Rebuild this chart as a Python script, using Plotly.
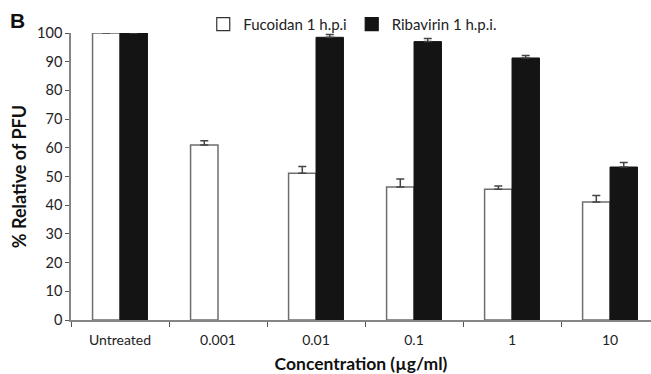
import plotly.graph_objects as go

categories = ["Untreated", "0.001", "0.01", "0.1", "1", "10"]
fucoidan = [100, 61.0, 51.1, 46.3, 45.6, 41.1]
fucoidan_err = [0.3, 1.5, 2.4, 2.8, 1.1, 2.3]
ribavirin = [100, None, 98.5, 97.0, 91.3, 53.3]
ribavirin_err = [0.3, None, 1.0, 1.1, 0.9, 1.6]
y_ticks = list(range(0, 101, 10))
legend_names = ["Fucoidan 1 h.p.i", "Ribavirin 1 h.p.i."]

FONT = "Lato, 'Open Sans', sans-serif"

fig = go.Figure()
fig.add_trace(go.Bar(
    x=categories, y=fucoidan, name=legend_names[0], showlegend=False,
    marker=dict(color="white", line=dict(color="#6e6e6e", width=1.5)),
    error_y=dict(type="data", array=fucoidan_err, symmetric=False, arrayminus=[0]*6,
                 color="#444444", thickness=1.5, width=4),
))
fig.add_trace(go.Bar(
    x=categories, y=ribavirin, name=legend_names[1], showlegend=False,
    marker=dict(color="#141414", line=dict(color="#141414", width=1)),
    error_y=dict(type="data", array=ribavirin_err, symmetric=False, arrayminus=[0]*6,
                 color="#444444", thickness=1.5, width=4),
))
# legend-only entries with larger square symbols
fig.add_trace(go.Scatter(x=[None], y=[None], mode="markers", name=legend_names[0],
                         marker=dict(symbol="square", size=13, color="white",
                                     line=dict(color="#333333", width=1.2))))
fig.add_trace(go.Scatter(x=[None], y=[None], mode="markers", name=legend_names[1],
                         marker=dict(symbol="square", size=13, color="#141414",
                                     line=dict(color="#141414", width=1.2))))

fig.update_layout(
    width=651, height=374,
    margin=dict(l=71, r=0, t=33, b=54),
    paper_bgcolor="white", plot_bgcolor="white",
    barmode="group", bargap=0.44, bargroupgap=0,
    font=dict(family=FONT, size=14, color="#222222"),
    showlegend=True,
    legend=dict(orientation="h", x=0.228, xanchor="left", y=1.03, yanchor="middle",
                font=dict(size=15, family=FONT, color="#222222"), itemwidth=30,
                traceorder="normal", itemsizing="trace", bgcolor="rgba(0,0,0,0)"),
    xaxis=dict(
        type="category", range=[-0.5, 5.418],
        showline=True, linecolor="#868686", linewidth=1.5,
        ticks="outside", tickson="boundaries", ticklen=5, tickcolor="#555555",
        tickfont=dict(size=14, family=FONT, color="#222222"),
        ticklabelstandoff=6,
        showgrid=False, zeroline=False,
        title=dict(text="<b>Concentration (µg/ml)</b>", font=dict(size=17.5, family=FONT, color="#111111"),
                   standoff=12),
    ),
    yaxis=dict(
        range=[0, 100], tickvals=y_ticks,
        showline=True, linecolor="#868686", linewidth=1.5,
        ticks="outside", ticklen=4, tickcolor="#555555",
        tickfont=dict(size=14.5, family=FONT, color="#222222"),
        showgrid=False, zeroline=False,
        title=dict(text="<b>% Relative of PFU</b>", font=dict(size=18, family=FONT, color="#111111"),
                   standoff=6),
    ),
    annotations=[dict(text="<b>B</b>", xref="paper", yref="paper", x=-0.108, y=1.045,
                      xanchor="left", yanchor="middle", showarrow=False,
                      font=dict(size=21, family="Liberation Sans, Arial, sans-serif", color="#111111"))],
)

fig.write_html("out.html")
